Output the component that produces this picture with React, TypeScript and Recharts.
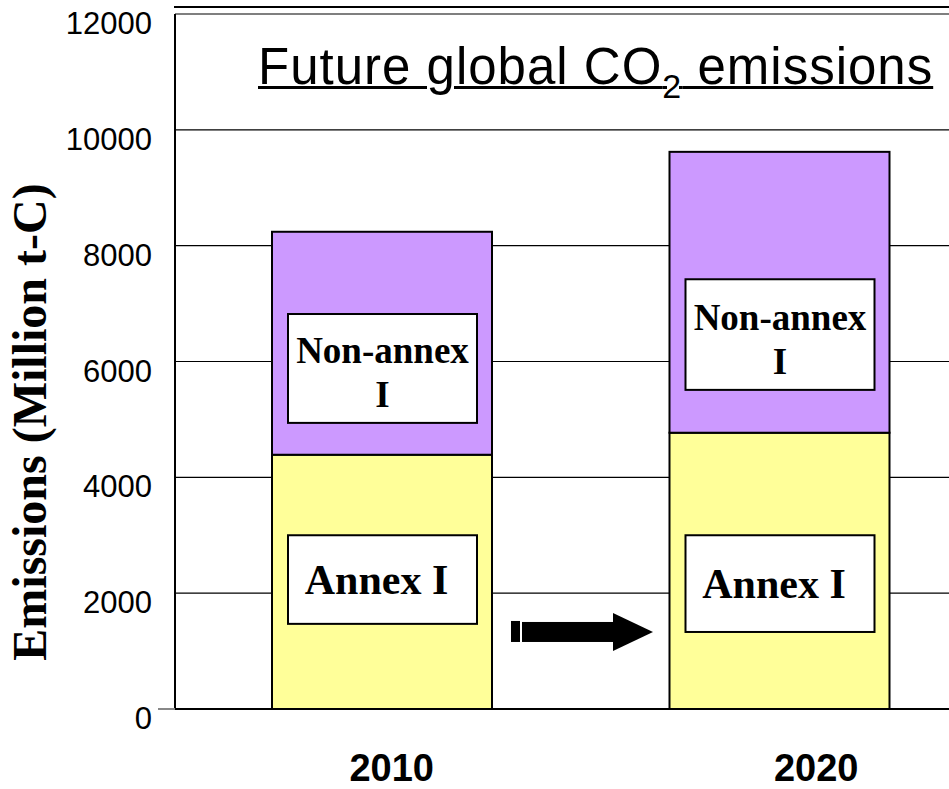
import React from 'react';
import { BarChart, Bar, XAxis, YAxis, CartesianGrid } from 'recharts';

const years = ['2010', '2020'];
const annexI = [4390, 4770];
const nonAnnexI = [3850, 4850];
// label boxes, in data units (Million t-C)
const annexBoxTop = [3000, 3000];
const annexBoxBottom = [1470, 1330];
const nonAnnexBoxTop = [6820, 7420];
const nonAnnexBoxBottom = [4940, 5510];
const arrowLevel = 1330;
const yTicks = [0, 2000, 4000, 6000, 8000, 10000, 12000];
const xLabelShift = [10, 37];

const data = years.map((year, i) => ({ year, i, annex: annexI[i], nonAnnex: nonAnnexI[i] }));

const SERIF = '"Liberation Serif", "Times New Roman", serif';
const SANS = '"Liberation Sans", Arial, Helvetica, sans-serif';

const makeShape = (kind: 'annex' | 'nonAnnex') => (props: any) => {
  const { x, y, width, height, payload } = props;
  const i = payload.i;
  const bottom = kind === 'annex' ? 0 : annexI[i];
  const top = kind === 'annex' ? annexI[i] : annexI[i] + nonAnnexI[i];
  const toPx = (v: number) => y + (height * (top - v)) / (top - bottom);
  const bx = x + 16;
  const bw = width - 31;
  const b1 = toPx(kind === 'annex' ? annexBoxTop[i] : nonAnnexBoxTop[i]);
  const b2 = toPx(kind === 'annex' ? annexBoxBottom[i] : nonAnnexBoxBottom[i]);
  const cx = bx + bw / 2;
  const cy = (b1 + b2) / 2;
  const R = x + width;
  const ay = toPx(arrowLevel);
  return (
    <g>
      <rect x={x} y={y} width={width} height={height} fill={kind === 'annex' ? '#FFFF99' : '#CC99FF'} stroke="#000" strokeWidth={2} />
      <rect x={bx} y={b1} width={bw} height={b2 - b1} fill="#fff" stroke="#000" strokeWidth={2} />
      {kind === 'annex' ? (
        <text x={cx - 6} y={cy + 14} textAnchor="middle" fontFamily={SERIF} fontWeight="bold" fontSize={42} fill="#000">
          Annex I
        </text>
      ) : (
        <text textAnchor="middle" fontFamily={SERIF} fontWeight="bold" fontSize={37} fill="#000">
          <tspan x={cx} y={cy - 5}>Non-annex</tspan>
          <tspan x={cx} y={cy + 39}>I</tspan>
        </text>
      )}
      {kind === 'annex' && i === 0 ? (
        <g fill="#000">
          <rect x={R + 19} y={ay - 11} width={9} height={21} />
          <rect x={R + 30} y={ay - 10} width={92} height={20} />
          <polygon points={`${R + 121},${ay - 19} ${R + 161},${ay} ${R + 121},${ay + 19}`} />
        </g>
      ) : null}
    </g>
  );
};

const YTick = (props: any) => {
  const { x, y, payload } = props;
  return (
    <g>
      {payload.value === 0 ? <line x1={x + 6} x2={x + 23} y1={y} y2={y} stroke="#888" strokeWidth={2} /> : null}
      <text x={x} y={y + 20} textAnchor="end" fontFamily={SANS} fontSize={31} fill="#000">
        {payload.value}
      </text>
    </g>
  );
};

const XTick = (props: any) => {
  const { x, y, payload, index } = props;
  return (
    <text x={x + (xLabelShift[index] || 0)} y={y + 72} textAnchor="middle" fontFamily={SANS} fontWeight="bold" fontSize={38} fill="#000">
      {payload.value}
    </text>
  );
};

const YLabel = () => (
  <text transform="translate(46,422) rotate(-90)" textAnchor="middle" fontFamily={SERIF} fontWeight="bold" fontSize={48} fill="#000">
    Emissions (Million t-C)
  </text>
);

export default function App() {
  return (
    <div style={{ position: 'absolute', left: 0, top: 0, width: 949, height: 789, overflow: 'hidden', background: '#fff' }}>
      <BarChart width={978} height={789} data={data} margin={{ top: 14, right: 0, bottom: 0, left: 0 }}>
        <CartesianGrid vertical={false} horizontal={true} stroke="#000" strokeWidth={1.2} />
        <XAxis
          dataKey="year"
          height={80}
          padding={{ left: 8, right: 0 }}
          axisLine={{ stroke: '#000', strokeWidth: 2 }}
          tickLine={false}
          tickSize={0}
          tickMargin={0}
          tick={<XTick />}
          interval={0}
        />
        <YAxis
          width={175}
          domain={[0, 12000]}
          ticks={yTicks}
          interval={0}
          axisLine={{ stroke: '#000', strokeWidth: 2 }}
          tickLine={false}
          tickSize={6}
          tickMargin={17}
          tick={<YTick />}
          label={<YLabel />}
        />
        <Bar dataKey="annex" stackId="a" barSize={220} fill="#FFFF99" stroke="#000" isAnimationActive={false} shape={makeShape('annex')} />
        <Bar dataKey="nonAnnex" stackId="a" barSize={220} fill="#CC99FF" stroke="#000" isAnimationActive={false} shape={makeShape('nonAnnex')} />
      </BarChart>
      <div style={{ position: 'absolute', left: 174, top: 6, width: 800, height: 0, borderTop: '2px solid #000' }} />
      <div
        style={{
          position: 'absolute',
          left: 258,
          top: 41,
          fontFamily: SANS,
          fontSize: 51,
          lineHeight: '51px',
          letterSpacing: 1,
          whiteSpace: 'nowrap',
          textDecoration: 'underline',
          textDecorationThickness: 3,
          color: '#000',
        }}
      >
        Future global CO<span style={{ fontSize: 34, position: 'relative', top: 14 }}>2</span> emissions
      </div>
    </div>
  );
}
